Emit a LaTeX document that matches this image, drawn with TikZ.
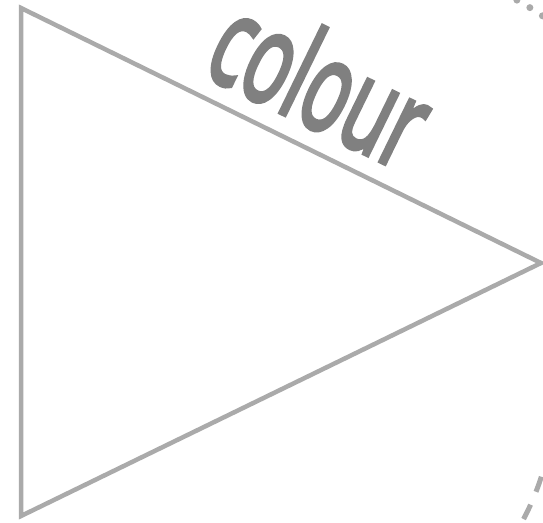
\documentclass[tikz,border=0pt]{standalone}
\usepackage{fontspec}
\newfontfamily\labelfont{Open Sans}[FakeBold=4]
\definecolor{edgegray}{HTML}{AAAAAA}
\definecolor{textgray}{HTML}{808080}
\begin{document}
\begin{tikzpicture}[x=1pt,y=-1pt]
		\useasboundingbox (0,0) rectangle (543,522);
		\clip (0,0) rectangle (543,522);
		\draw[edgegray,line width=4.5pt] (21,8) -- (541,263) -- (21,516) -- cycle;
		\node[textgray,rotate=-26,xscale=0.6,font=\labelfont\fontsize{126}{126}\selectfont] (label) at (322,80) {colour};

		\draw[edgegray,line width=7pt,line cap=round,dash pattern=on 0pt off 15pt]
			plot[domain=-64.5:-48,samples=40] ({383+280*cos(\x)},{246+280*sin(\x)});
		\draw[edgegray,line width=5pt,dash pattern=on 16pt off 14pt]
			plot[domain=17.8:36,samples=40] ({290+264*cos(\x)},{396+264*sin(\x)});
	\end{tikzpicture}
\end{document}
